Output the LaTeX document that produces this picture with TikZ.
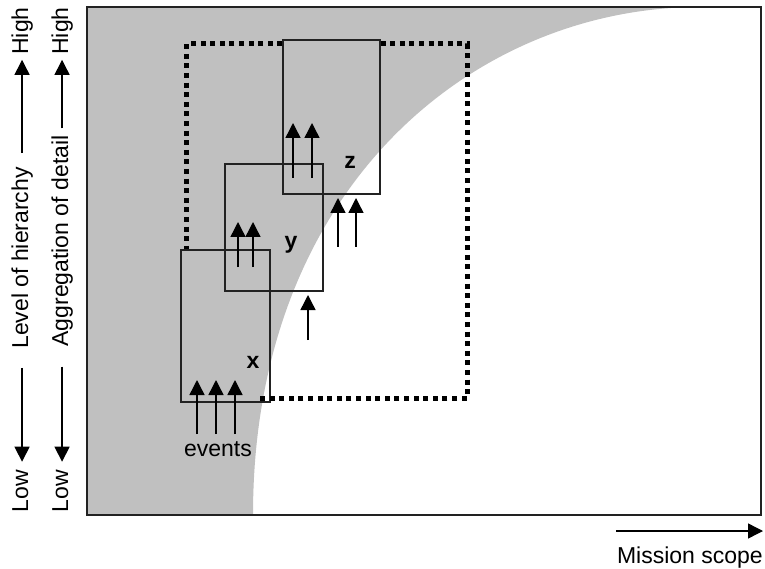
\documentclass[tikz,border=0pt]{standalone}
\usepackage{fontspec}
\setmainfont{Liberation Sans}
\usetikzlibrary{arrows.meta}

\definecolor{silvergray}{RGB}{192,192,192}
\definecolor{ink}{RGB}{34,34,34}

\tikzset{
  up/.style={-{Triangle[length=15pt,width=15pt]},line width=1.4pt},
  dots/.style={line width=5pt,dash pattern=on 5pt off 4.6pt},
  axis/.style={rotate=90,anchor=base,inner sep=0pt},
}

\begin{document}
\begin{tikzpicture}[x=1pt,y=-1pt,font=\fontsize{23}{27}\selectfont]

          \fill[white] (0,0) rectangle (765,569);
          \useasboundingbox (0,0) rectangle (765,569);

          % grey part of the frame
          \fill[silvergray] (87,7) -- (700,7) .. controls (476,7) and (253,185) .. (253,515) -- (87,515) -- cycle;

          \node[minimum width=280pt,minimum height=354pt,inner sep=0pt] (dr) at (327,221) {};

          \begin{scope}[every node/.style={draw=ink,line width=1.2pt,inner sep=0pt}]
            \node[minimum width=89pt,minimum height=152pt] (bx) at (225.5,326) {};
            \node[minimum width=98pt,minimum height=127pt] (by) at (274,227.5) {};
            \node[minimum width=97pt,minimum height=154pt] (bz) at (331.5,117) {};
          \end{scope}

          \draw[dots] (bz.west |- dr.north) -- (dr.north west) -- (dr.west |- bx.north);
          \draw[dots] (bz.east |- dr.north) -- (dr.north east) -- (dr.south east) -- ([xshift=-12pt]bx.east |- dr.south);

          \draw[ink,line width=2pt] (87,7) rectangle (761,515);

          \node (lx) at (253,362) {\bfseries x};
          \node (ly) at (291,245) {\bfseries y};
          \node (lz) at (350,162) {\bfseries z};
          \node[anchor=base] (ev) at (218,456) {events};

          \foreach \name/\ax/\from/\to in {e1/197/434/380, e2/216/434/380, e3/235/434/380,
                                           y1/238/267/222, y2/253/267/222,
                                           z1/293/178/123, z2/312/178/123,
                                           s1/338/247/198, s2/356/247/198, s3/308/340/295} {
            \coordinate (\name a) at (\ax,\from);
            \coordinate (\name b) at (\ax,\to);
            \draw[up] (\name a) -- (\name b);
          }

          % left axes
          \node[axis] (hi1) at (28,31)  {High};
          \node[axis] (lvl) at (28,258) {Level of hierarchy};
          \node[axis] (lo1) at (28,491) {Low};
          \node[axis] (hi2) at (68,31)  {High};
          \node[axis] (agg) at (68,241) {Aggregation of detail};
          \node[axis] (lo2) at (68,491) {Low};

          \draw[up,shorten <=14pt,shorten >=5pt] (lvl.east) -- (lvl.east |- hi1.west);
          \draw[up,shorten <=19pt,shorten >=8pt] (lvl.west) -- (lvl.west |- lo1.east);
          \draw[up,shorten <=7pt,shorten >=5pt] (agg.east) -- (agg.east |- hi2.west);
          \draw[up,shorten <=20pt,shorten >=8pt] (agg.west) -- (agg.west |- lo2.east);

          % bottom axis
          \node[anchor=base east,inner sep=0pt] (ms) at (763,563) {Mission scope};
          \coordinate (m0) at (616,531);
          \coordinate (m1) at (763,531);
          \draw[up] (m0) -- (m1);

        \end{tikzpicture}
\end{document}
